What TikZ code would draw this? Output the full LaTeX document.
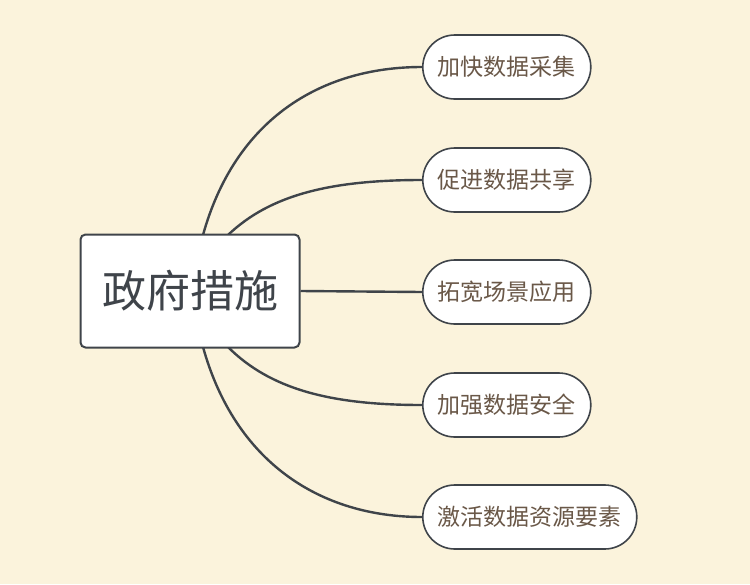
\documentclass[tikz,border=0pt]{standalone}
\usepackage{fontspec}
\newfontfamily\cjk{Noto Sans CJK SC}
\usepackage{xcolor}
\definecolor{bgcol}{RGB}{251,243,220}
\definecolor{linecol}{RGB}{63,68,74}
\definecolor{txtcol}{RGB}{106,88,72}
\begin{document}
\begin{tikzpicture}[x=1pt,y=-1pt,
    rootbox/.style={draw=linecol,line width=2pt,fill=white,rounded corners=5pt,minimum width=219pt,minimum height=113pt,inner sep=0pt,text=linecol,font=\cjk\fontsize{44}{48}\selectfont},
    leafbox/.style={draw=linecol,line width=1.6pt,fill=white,rounded corners=32pt,minimum height=64pt,inner xsep=15pt,text=txtcol,font=\cjk\fontsize{23}{26}\selectfont},
    link/.style={draw=linecol,line width=2.4pt}]
    \fill[bgcol] (0,0) rectangle (750,584);
    \useasboundingbox (0,0) rectangle (750,584);
    
    %links
    \coordinate (ra) at (203,235);
    \coordinate (rb) at (228,235);
    \coordinate (rd) at (228,347);
    \coordinate (re) at (203,347);
    \node (l1) [leafbox,anchor=west] at (422,67) {加快数据采集};
    \node (l2) [leafbox,anchor=west] at (422,180) {促进数据共享};
    \node (l3) [leafbox,anchor=west] at (422,292) {拓宽场景应用};
    \node (l4) [leafbox,anchor=west] at (422,405) {加强数据安全};
    \node (l5) [leafbox,anchor=west] at (422,517) {激活数据资源要素};
    \path[link] (ra) .. controls (235,120) and (320,67) .. (l1.west);
    \path[link] (rb) .. controls (270,195) and (330,180) .. (l2.west);
    \path[link] (rd) .. controls (270,389) and (330,405) .. (l4.west);
    \path[link] (re) .. controls (235,462) and (320,517) .. (l5.west);
    
    %root
    \node (root) [rootbox] at (190,291) {政府措施};
    \path[link] (root.east) -- (l3.west);
\end{tikzpicture}
\end{document}
